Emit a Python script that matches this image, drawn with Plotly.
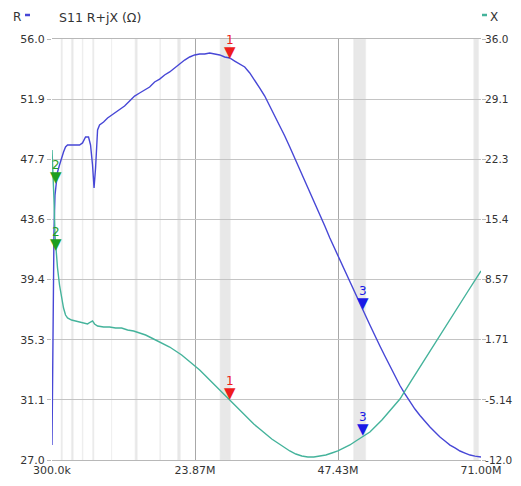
import plotly.graph_objects as go

# ---- data ----
freq_r = [0.30, 0.465, 0.63, 0.795, 0.96, 1.21, 1.54, 1.87, 2.20, 2.53, 2.86, 3.52, 4.18, 4.84, 5.33,
          5.83, 6.32, 6.65, 6.98, 7.23, 7.48, 7.81, 8.14, 8.80, 9.46, 10.12, 10.78, 11.44, 12.26, 13.09,
          13.91, 14.74, 15.56, 16.39, 17.21, 18.04, 18.86, 19.69, 20.51, 21.34, 22.16, 22.99, 23.81,
          24.64, 25.46, 26.29, 27.11, 27.94, 28.76, 29.59, 30.41, 31.24, 32.06, 32.89, 33.71, 34.54,
          35.36, 36.19, 37.01, 37.84, 38.66, 39.49, 40.31, 41.14, 41.96, 42.79, 43.61, 44.44, 45.26,
          46.09, 46.91, 47.74, 48.56, 49.39, 50.21, 51.04, 51.70, 52.69, 53.51, 54.34, 55.16, 55.99,
          56.81, 57.64, 58.46, 59.29, 60.11, 60.94, 61.76, 62.59, 63.41, 64.24, 65.06, 65.89, 66.71,
          67.54, 68.36, 69.19, 70.01, 71.00]
r_vals = [28.03, 35.96, 42.84, 45.25, 46.08, 46.84, 47.32, 47.80, 48.22, 48.56, 48.70, 48.70, 48.70, 48.70, 48.84,
          49.25, 49.25, 48.70, 47.32, 45.74, 47.11, 49.73, 50.08, 50.28, 50.56, 50.76, 50.97, 51.11, 51.38, 51.73,
          52.07, 52.28, 52.49, 52.69, 53.04, 53.24, 53.52, 53.73, 54.00, 54.28, 54.55, 54.76, 54.90,
          54.97, 54.97, 55.04, 54.97, 54.90, 54.76, 54.69, 54.48, 54.28, 54.07, 53.66, 53.18, 52.62,
          52.07, 51.38, 50.76, 50.08, 49.32, 48.56, 47.80, 46.98, 46.22, 45.39, 44.63, 43.88, 43.12,
          42.29, 41.53, 40.78, 40.09, 39.33, 38.58, 37.81, 37.19, 36.30, 35.54, 34.85, 34.16, 33.47,
          32.78, 32.13, 31.55, 31.00, 30.51, 30.07, 29.65, 29.27, 28.93, 28.58, 28.31, 28.03, 27.83,
          27.62, 27.48, 27.34, 27.27, 27.21]

freq_x = [0.30, 0.465, 0.63, 0.795, 0.96, 1.21, 1.54, 1.87, 2.20, 2.53, 2.86, 3.52, 4.18, 4.84, 5.50,
          6.16, 6.65, 6.98, 7.31, 7.81, 8.80, 9.79, 10.78, 11.77, 12.76, 13.75, 14.74, 15.73, 16.72,
          17.71, 18.70, 19.69, 20.68, 21.67, 22.66, 23.65, 24.64, 25.63, 26.62, 27.61, 28.60, 29.59,
          30.58, 31.57, 32.56, 33.55, 34.54, 35.53, 36.52, 37.51, 38.50, 39.49, 40.48, 41.47, 42.46,
          43.45, 44.44, 45.43, 46.42, 47.41, 48.40, 49.39, 50.38, 51.37, 52.69, 53.68, 54.67, 55.66,
          56.65, 57.64, 59.29, 60.94, 62.59, 64.24, 65.89, 67.54, 69.19, 71.00]
x_vals = [23.34, 21.06, 17.64, 13.65, 11.72, 9.89, 7.95, 6.47, 5.33, 4.53, 4.19, 3.96, 3.85, 3.73, 3.62,
          3.51, 3.73, 3.85, 3.51, 3.28, 3.16, 3.16, 3.05, 3.05, 2.82, 2.71, 2.48, 2.25, 1.91,
          1.57, 1.23, 0.88, 0.43, -0.03, -0.60, -1.17, -1.74, -2.42, -3.11, -3.79, -4.48, -5.16,
          -5.84, -6.53, -7.21, -7.90, -8.47, -9.04, -9.61, -10.06, -10.52, -10.97, -11.32, -11.54, -11.66,
          -11.66, -11.54, -11.43, -11.20, -10.97, -10.63, -10.29, -9.83, -9.38, -8.81, -8.12, -7.44, -6.64,
          -5.84, -5.05, -3.22, -1.40, 0.43, 2.25, 4.08, 5.79, 7.61, 9.55]

marker_ids = ["1", "2", "3"]
marker_freq = [29.7, 0.9, 51.6]
marker_r = [54.65, 46.0, 37.3]
marker_x = [-5.2, 11.8, -9.3]
marker_colors = ["#ee1c1c", "#1f9e1f", "#1a1ae6"]

bands = [(1.8, 2.0), (3.5, 3.8), (5.3, 5.4), (7.0, 7.2), (10.1, 10.15), (14.0, 14.35),
         (18.068, 18.168), (21.0, 21.45), (28.0, 29.7), (50.0, 52.0), (69.8, 70.6)]

x_tickvals = [0.3, 23.8667, 47.4333, 71.0]
x_ticktext = ["300.0k", "23.87M", "47.43M", "71.00M"]
r_tickvals = [27 + 29 / 7 * k for k in range(8)]
r_ticktext = ["27.0", "31.1", "35.3", "39.4", "43.6", "47.7", "51.9", "56.0"]
x2_tickvals = [-12 + 48 / 7 * k for k in range(8)]
x2_ticktext = ["-12.0", "-5.14", "1.71", "8.57", "15.4", "22.3", "29.1", "36.0"]

R_COLOR = "#4747d6"
X_COLOR = "#44b39b"
FONT = "DejaVu Sans"

# page body has an 8px default margin; compensate so the plot area lands at 52..481 x 39..460
W, H = 513, 478
ML, MR, MT, MB = 44, 40, 31, 26
PW = W - ML - MR
PH = H - MT - MB


def px(xpix):
    # page pixel x -> paper coordinate
    return (xpix - 8 - ML) / PW


fig = go.Figure()
fig.add_trace(go.Scatter(x=freq_r, y=r_vals, mode="lines", line=dict(color=R_COLOR, width=1.4),
                         yaxis="y", showlegend=False, hoverinfo="skip"))
fig.add_trace(go.Scatter(x=freq_x, y=x_vals, mode="lines", line=dict(color=X_COLOR, width=1.4),
                         yaxis="y2", showlegend=False, hoverinfo="skip"))

shapes = []
for a, b in bands:
    shapes.append(dict(type="rect", xref="x", yref="paper", x0=a, x1=b, y0=0, y1=1,
                       fillcolor="#e8e8e8", line=dict(color="#ededed", width=0.6), layer="below"))
# legend dashes in header
hy = 1 + 24 / PH
shapes.append(dict(type="line", xref="paper", yref="paper", x0=px(25), x1=px(30), y0=hy, y1=hy,
                   line=dict(color=R_COLOR, width=2.5)))
shapes.append(dict(type="line", xref="paper", yref="paper", x0=px(482), x1=px(487), y0=hy, y1=hy,
                   line=dict(color=X_COLOR, width=2.5)))

annotations = []
for mid, f, rv, xv, c in zip(marker_ids, marker_freq, marker_r, marker_x, marker_colors):
    for yv, yr in ((rv, "y"), (xv, "y2")):
        annotations.append(dict(x=f, y=yv, xref="x", yref=yr, text="▼", showarrow=False,
                                yanchor="bottom", yshift=-4, font=dict(family=FONT, size=15, color=c)))
        annotations.append(dict(x=f, y=yv, xref="x", yref=yr, text=mid, showarrow=False,
                                yanchor="bottom", yshift=10, font=dict(family=FONT, size=12, color=c)))

# header texts
annotations.append(dict(xref="paper", yref="paper", x=px(23), y=1, yshift=22, xanchor="right",
                        yanchor="middle", showarrow=False, text="R",
                        font=dict(family=FONT, size=12, color="#333")))
annotations.append(dict(xref="paper", yref="paper", x=px(57), y=1, yshift=22, xanchor="left",
                        yanchor="middle", showarrow=False, text="S11 R+jX (Ω)",
                        font=dict(family=FONT, size=12.5, color="#333")))
annotations.append(dict(xref="paper", yref="paper", x=px(488), y=1, yshift=22, xanchor="left",
                        yanchor="middle", showarrow=False, text="X",
                        font=dict(family=FONT, size=12, color="#333")))

fig.update_layout(
    width=W, height=H,
    margin=dict(l=ML, r=MR, t=MT, b=MB, autoexpand=False),
    paper_bgcolor="white", plot_bgcolor="white",
    font=dict(family=FONT, size=11, color="#333"),
    shapes=shapes, annotations=annotations,
    xaxis=dict(range=[0.3, 71.0], tickvals=x_tickvals, ticktext=x_ticktext, showgrid=True,
               gridcolor="#a8a8a8", gridwidth=1, zeroline=False, ticks="", showline=True,
               linecolor="#b8b8b8", mirror=True, tickfont=dict(size=11), automargin=False),
    yaxis=dict(range=[27, 56], tickvals=r_tickvals, ticktext=r_ticktext, showgrid=True,
               gridcolor="#c4c4c4", gridwidth=1, zeroline=False, ticks="outside", ticklen=4,
               tickcolor="#b8b8b8", showline=False, tickfont=dict(size=11), automargin=False),
    yaxis2=dict(range=[-12, 36], tickvals=x2_tickvals, ticktext=x2_ticktext, overlaying="y",
                side="right", showgrid=False, zeroline=False, ticks="outside", ticklen=4,
                ticklabelstandoff=-3,
                tickcolor="#b8b8b8", showline=False, tickfont=dict(size=10.5), automargin=False),
)

fig.write_html("out.html")
